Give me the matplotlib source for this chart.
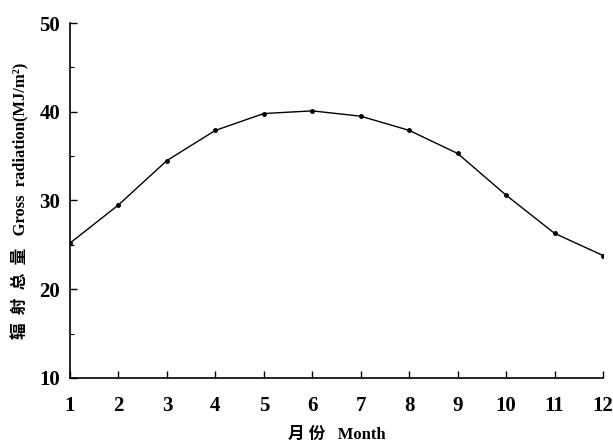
import matplotlib.pyplot as plt
from matplotlib.ticker import MultipleLocator

# monthly gross radiation values
months = [1, 2, 3, 4, 5, 6, 7, 8, 9, 10, 11, 12]
radiation = [25.2, 29.5, 34.5, 37.9, 39.8, 40.1, 39.5, 37.9, 35.3, 30.6, 26.3, 23.8]

plt.rcParams['font.family'] = ['Liberation Serif', 'Noto Sans CJK SC']

fig = plt.figure(figsize=(6.13, 4.46), dpi=100)
ax = fig.add_axes([0.1142, 0.1525, 0.8695, 0.7959])

ax.plot(months, radiation, color='black', linewidth=1.0, marker='o', markersize=2.5)

ax.set_xlim(1, 12)
ax.set_ylim(10, 50)
ax.set_xticks(months)
ax.yaxis.set_major_locator(MultipleLocator(10))
ax.yaxis.set_minor_locator(MultipleLocator(5))

ax.spines['top'].set_visible(False)
ax.spines['right'].set_visible(False)
ax.spines['left'].set_linewidth(1.2)
ax.spines['bottom'].set_linewidth(1.2)

ax.tick_params(axis='both', which='major', direction='in', length=5, width=1.0,
               labelsize=15)
ax.tick_params(axis='x', which='major', pad=13)
ax.tick_params(axis='y', which='major', pad=7)
ax.tick_params(axis='y', which='minor', direction='in', length=3, width=0.8)
for lbl in ax.get_xticklabels() + ax.get_yticklabels():
    lbl.set_fontweight('bold')

ax.set_ylabel('辐  射  总  量   Gross  radiation(MJ/m²)', fontsize=12, fontweight='bold',
              va='center')
ax.yaxis.set_label_coords(-0.094, 0.5)
ax.set_xlabel('月 份   Month', fontsize=12, fontweight='bold', va='center')
ax.xaxis.set_label_coords(0.5, -0.16)

plt.savefig('out.png', dpi=100)
